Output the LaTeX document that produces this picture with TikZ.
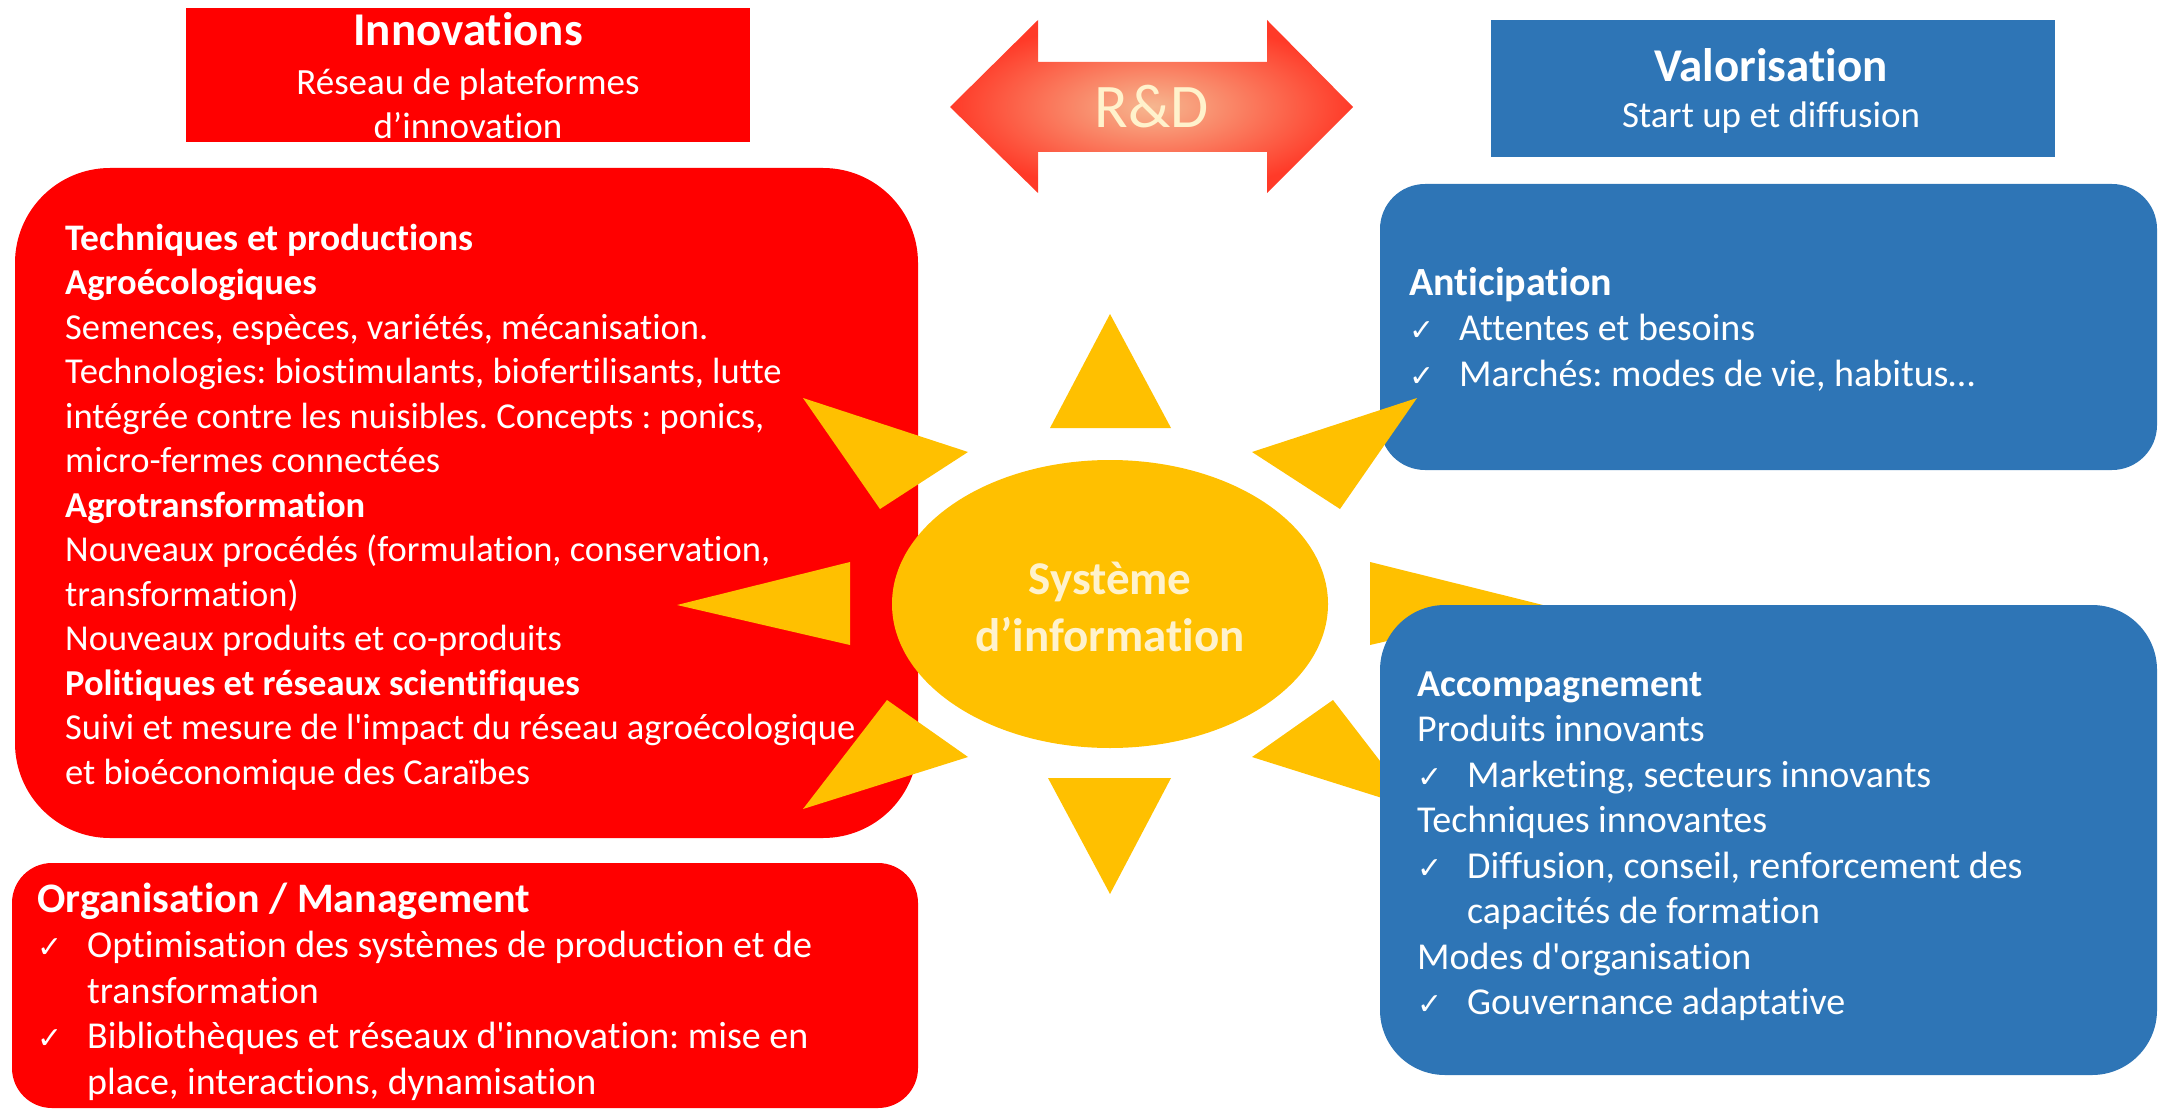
\documentclass[tikz,border=0pt]{standalone}
\usepackage{fontspec}
\setmainfont{Carlito}[Ligatures={TeX,NoCommon}]
\newfontfamily\symfont{DejaVu Sans}
\usetikzlibrary{calc,shapes.geometric}
\frenchspacing
\definecolor{myred}{HTML}{FF0000}
\definecolor{myblue}{HTML}{2E75B6}
\definecolor{gold}{HTML}{FFC000}
\definecolor{cream}{HTML}{FFF2CC}
\definecolor{peach}{HTML}{F6B790}
\definecolor{arrowred}{HTML}{FF3A28}
\newcommand\ckmark{\makebox[50pt][l]{\symfont\fontsize{30}{30}\selectfont ✓}}
\newcommand\ckindent{\hspace*{50pt}}
\begin{document}
\begin{tikzpicture}[x=1pt,y=-1pt,
  redbox/.style={rectangle, fill=myred, draw=none, inner sep=0pt},
  bluebox/.style={rectangle, fill=myblue, draw=none, inner sep=0pt},
  ray/.style={fill=gold, draw=none},
  bodytext/.style={text=white, align=left, anchor=base west, inner sep=0pt,
    font=\fontsize{36.5}{44.5}\selectfont},
  titletext/.style={text=white, align=center, anchor=base, inner sep=0pt,
    font=\bfseries\fontsize{47}{50}\selectfont},
  subtext/.style={text=white, align=center, anchor=base, inner sep=0pt,
    font=\fontsize{37}{44}\selectfont}
]
\useasboundingbox (0,0) rectangle (2159,1110);

% header boxes
\node[redbox, minimum width=564pt, minimum height=134pt] (innov) at (468,75) {};
\node[titletext] (innovT) at (468,46) {Innovations};
\node[subtext] (innovS) at (468,139) {Réseau de plateformes\\d’innovation};

\node[bluebox, minimum width=564pt, minimum height=137pt] (valo) at (1773,88.5) {};
\node[titletext] (valoT) at (1771,82) {Valorisation};
\node[subtext] (valoS) at (1771,128) {Start up et diffusion};

% R&D double arrow
\shade[inner color=peach, outer color=arrowred]
  (950,107) -- (1038,20) -- (1038,62) -- (1267,62) -- (1267,20) -- (1353,107)
  -- (1267,193) -- (1267,152) -- (1038,152) -- (1038,193) -- cycle;
\node[text=cream, anchor=base, inner sep=0pt, font=\fontsize{62}{62}\selectfont] (rd) at (1152,128) {R\&D};

% main red box
\node[redbox, rounded corners=95pt, minimum width=903pt, minimum height=670pt] (tech) at (466.5,503) {};
\node[bodytext] (techT) at (65,784) {{\bfseries\fontsize{37.5}{44.5}\selectfont Techniques et productions}\\
\textbf{Agroécologiques}\\
Semences, espèces, variétés, mécanisation.\\
Technologies: biostimulants, biofertilisants, lutte\\
intégrée contre les nuisibles. Concepts : ponics,\\
micro-fermes connectées\\
\textbf{Agrotransformation}\\
Nouveaux procédés (formulation, conservation,\\
transformation)\\
Nouveaux produits et co-produits\\
\textbf{Politiques et réseaux scientifiques}\\
Suivi et mesure de l\textquotesingle impact du réseau agroécologique\\
et bioéconomique des Caraïbes};

% organisation box
\node[redbox, rounded corners=40pt, minimum width=906pt, minimum height=245pt] (orga) at (465,985.5) {};
\node[bodytext, font=\fontsize{38}{45.5}\selectfont] (orgaT) at (37,1094) {{\bfseries\fontsize{42}{45.5}\selectfont Organisation / Management}\\
\ckmark Optimisation des systèmes de production et de\\
\ckindent transformation\\
\ckmark Bibliothèques et réseaux d\textquotesingle innovation: mise en\\
\ckindent place, interactions, dynamisation};

% anticipation box
\node[bluebox, rounded corners=45pt, minimum width=777pt, minimum height=286pt] (antic) at (1768.5,327) {};
\node[bodytext, font=\fontsize{38}{45.5}\selectfont] (anticT) at (1409,386) {{\bfseries\fontsize{40}{45.5}\selectfont Anticipation}\\
\ckmark Attentes et besoins\\
\ckmark Marchés: modes de vie, habitus…};

% sun
\coordinate (c) at (1110,604);
\begin{scope}[shift={(c)}]
\fill[ray] (0,-290) -- (-60,-176) -- (61,-176) -- cycle;
\fill[ray] (0,290) -- (-62,174) -- (61,174) -- cycle;
\fill[ray] (-433,1) -- (-260,-42) -- (-260,41) -- cycle;
\fill[ray] (433,1) -- (260,-42) -- (260,41) -- cycle;
\fill[ray] (-307,-206) -- (-142,-152) -- (-230,-95) -- cycle;
\fill[ray] (307,-206) -- (142,-152) -- (230,-95) -- cycle;
\fill[ray] (-307,205) -- (-223,96) -- (-142,153) -- cycle;
\fill[ray] (307,205) -- (223,96) -- (142,153) -- cycle;
\end{scope}
\node[ellipse, fill=gold, minimum width=436pt, minimum height=288pt, inner sep=0pt] (sun) at (c) {};
\node[text=cream, align=center, anchor=base, inner sep=0pt, font=\bfseries\fontsize{47}{57}\selectfont] (sunT) at (1110,651) {Système\\d’information};

% accompagnement box
\node[bluebox, rounded corners=65pt, minimum width=777pt, minimum height=470pt] (accomp) at (1768.5,840) {};
\node[bodytext, font=\fontsize{38}{45.5}\selectfont] (accompT) at (1417,1014.5) {{\bfseries\fontsize{38}{45.5}\selectfont Accompagnement}\\
Produits innovants\\
\ckmark Marketing, secteurs innovants\\
Techniques innovantes\\
\ckmark Diffusion, conseil, renforcement des\\
\ckindent capacités de formation\\
Modes d\textquotesingle organisation\\
\ckmark Gouvernance adaptative};
\end{tikzpicture}
\end{document}
